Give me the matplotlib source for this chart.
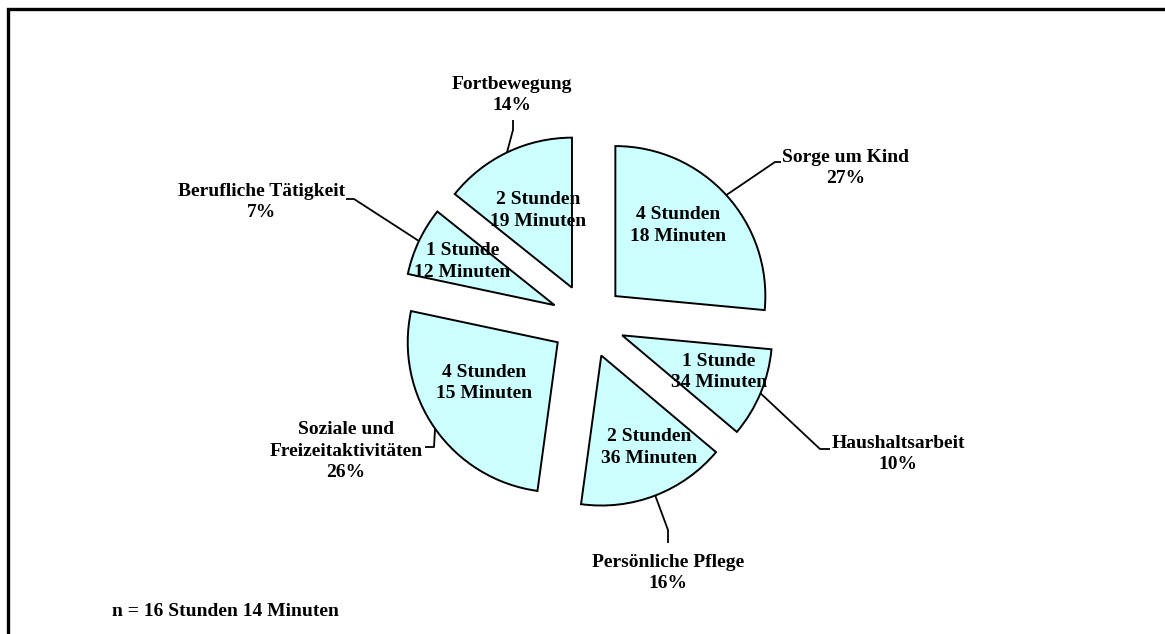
import numpy as np
import matplotlib
matplotlib.use("Agg")
import matplotlib.pyplot as plt

# ---- data ----
categories = ["Sorge um Kind", "Haushaltsarbeit", "Persönliche Pflege",
              "Soziale und\nFreizeitaktivitäten", "Berufliche Tätigkeit", "Fortbewegung"]
hours = [4, 1, 2, 4, 1, 2]
minutes = [18, 34, 36, 15, 12, 19]
percent_labels = ["27%", "10%", "16%", "26%", "7%", "14%"]
note = "n = 16 Stunden 14 Minuten"

values = [h * 60 + m for h, m in zip(hours, minutes)]

W, H = 1165, 634
fig = plt.figure(figsize=(W / 100, H / 100), dpi=100)
ax = fig.add_axes([0, 0, 1, 1])

FONT = dict(family="Liberation Serif", weight="bold", size=14)
LS = 1.36

def iy(y):  # image y -> data y
    return H - y

cx, cy = 588, iy(321)
R = 150
EXP = 37

inner = [f"{h} {'Stunde' if h == 1 else 'Stunden'}\n{m} Minuten" for h, m in zip(hours, minutes)]

wedges, texts = ax.pie(values, startangle=90, counterclock=False, center=(cx, cy),
                       radius=R, explode=[EXP] * len(values), labels=None,
                       wedgeprops=dict(facecolor="#CCFFFF", edgecolor="black", linewidth=1.4),
                       frame=True)
ax.set_xlim(0, W)
ax.set_ylim(0, H)
ax.set_aspect("equal")
ax.axis("off")

# inner label placement: (fraction of radius, angle shift in degrees)
inner_place = [(0.63, 6), (0.69, 2), (0.69, 6.5), (0.56, -6), (0.68, 0), (0.56, -2)]
for w, txt, (fr, dth) in zip(wedges, inner, inner_place):
    th = np.deg2rad((w.theta1 + w.theta2) / 2 + dth)
    x0, y0 = w.center
    ax.text(x0 + fr * R * np.cos(th), y0 + fr * R * np.sin(th), txt,
            ha="center", va="center", linespacing=LS, **FONT)

# leader line bend points (image coords) and label positions
bends = [
    [(775, 162), (781, 162)],
    [(820, 449), (830, 449)],
    [(668, 530), (668, 543)],
    [(434, 447), (425, 447)],
    [(354, 199), (346, 199)],
    [(513, 130), (513, 120)],
]
label_pos = [(846, 168), (898, 454), (668, 573), (346, 451), (262, 202), (512, 95)]

for w, cat, pct, bp, lp in zip(wedges, categories, percent_labels, bends, label_pos):
    th = np.deg2rad((w.theta1 + w.theta2) / 2)
    x0, y0 = w.center
    xs = [x0 + R * np.cos(th)] + [p[0] for p in bp]
    ys = [y0 + R * np.sin(th)] + [iy(p[1]) for p in bp]
    ax.plot(xs, ys, color="black", linewidth=1.3, solid_capstyle="butt")
    ax.text(lp[0], iy(lp[1]), f"{cat}\n{pct}", ha="center", va="center",
            linespacing=LS, **FONT)

ax.text(112, iy(611), note, ha="left", va="center", **FONT)

# frame (left and top border)
ax.plot([7.5, 7.5, W], [0, iy(8.5), iy(8.5)], color="black", linewidth=2.4,
        solid_joinstyle="miter", clip_on=False)

fig.savefig("out.png", dpi=100)
